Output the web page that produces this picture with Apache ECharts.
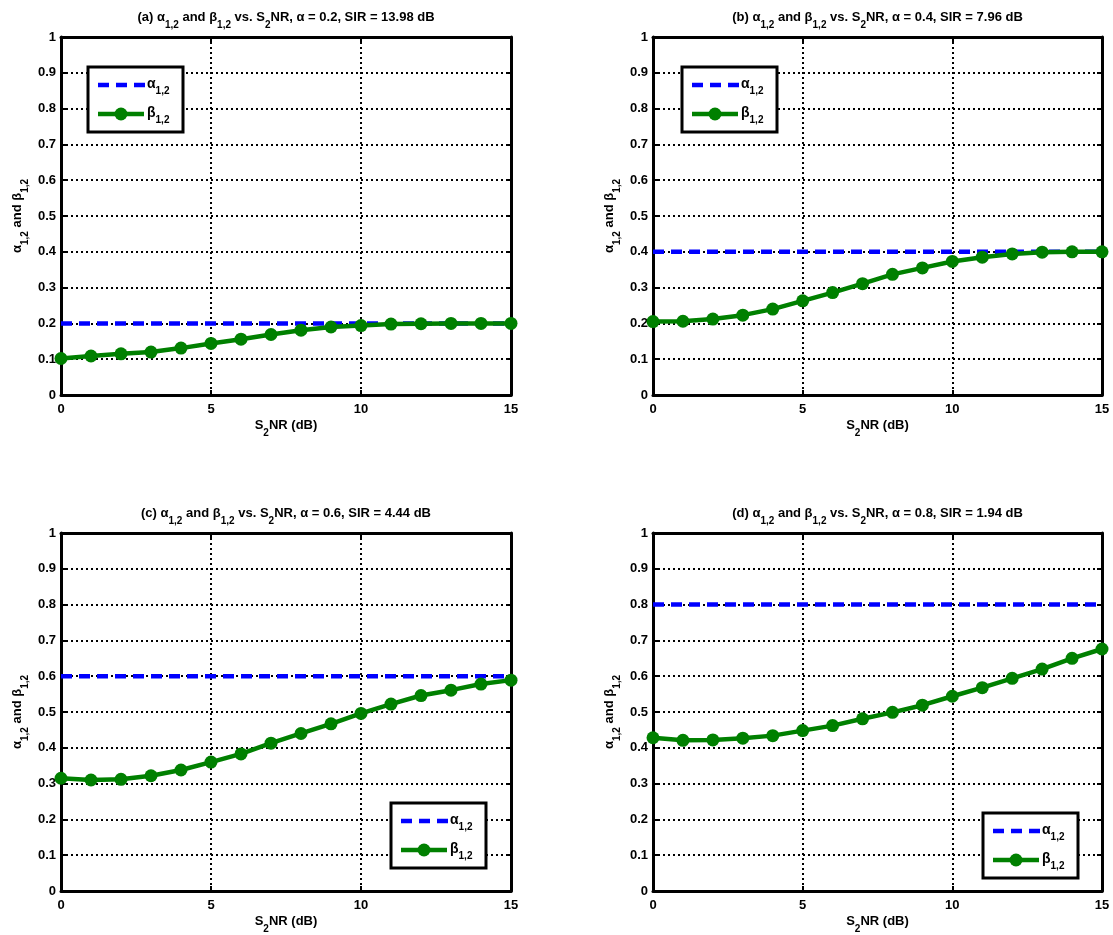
<!DOCTYPE html>
<html>
<head>
<meta charset="utf-8">
<script src="https://cdn.jsdelivr.net/npm/echarts@6/dist/echarts.min.js"></script>
<style>
  html, body { margin: 0; padding: 0; background: #ffffff; }
  #chart { width: 1113px; height: 935px; }
</style>
</head>
<body>
<div id="chart"></div>
<script>
// S2NR sweep (dB)
const snrDb = [0, 1, 2, 3, 4, 5, 6, 7, 8, 9, 10, 11, 12, 13, 14, 15];

// alpha_{1,2} per panel (constant over S2NR)
const alphaA = [0.2, 0.2, 0.2, 0.2, 0.2, 0.2, 0.2, 0.2, 0.2, 0.2, 0.2, 0.2, 0.2, 0.2, 0.2, 0.2];
const alphaB = [0.4, 0.4, 0.4, 0.4, 0.4, 0.4, 0.4, 0.4, 0.4, 0.4, 0.4, 0.4, 0.4, 0.4, 0.4, 0.4];
const alphaC = [0.6, 0.6, 0.6, 0.6, 0.6, 0.6, 0.6, 0.6, 0.6, 0.6, 0.6, 0.6, 0.6, 0.6, 0.6, 0.6];
const alphaD = [0.8, 0.8, 0.8, 0.8, 0.8, 0.8, 0.8, 0.8, 0.8, 0.8, 0.8, 0.8, 0.8, 0.8, 0.8, 0.8];

// beta_{1,2} per panel
const betaA = [0.102, 0.109, 0.115, 0.120, 0.131, 0.144, 0.156, 0.169, 0.181, 0.190, 0.194, 0.198, 0.199, 0.200, 0.200, 0.200];
const betaB = [0.205, 0.206, 0.212, 0.223, 0.240, 0.263, 0.286, 0.311, 0.337, 0.355, 0.373, 0.385, 0.394, 0.399, 0.400, 0.400];
const betaC = [0.315, 0.310, 0.312, 0.322, 0.338, 0.360, 0.383, 0.413, 0.440, 0.467, 0.496, 0.522, 0.546, 0.561, 0.578, 0.589];
const betaD = [0.428, 0.421, 0.422, 0.427, 0.434, 0.448, 0.462, 0.481, 0.499, 0.519, 0.544, 0.568, 0.594, 0.620, 0.650, 0.676];

// panel captions
const panelTags = ['(a)', '(b)', '(c)', '(d)'];
const alphaText = ['0.2', '0.4', '0.6', '0.8'];
const sirText = ['13.98', '7.96', '4.44', '1.94'];

// axis ranges
const xRange = [0, 15];
const xStep = 5;
const yRange = [0, 1];
const yStep = 0.1;

const alphaSets = [alphaA, alphaB, alphaC, alphaD];
const betaSets = [betaA, betaB, betaC, betaD];

// ---- layout ----
const FONT = '"Liberation Sans", Arial, Helvetica, sans-serif';
const grids = [
  { left: 61, top: 37, width: 450, height: 358 },
  { left: 653, top: 37, width: 449, height: 358 },
  { left: 61, top: 533, width: 450, height: 358 },
  { left: 653, top: 533, width: 449, height: 358 }
];
const legendBoxes = [
  { x: 88, y: 67 },
  { x: 682, y: 67 },
  { x: 391, y: 803 },
  { x: 983, y: 813 }
];

const BLUE = '#0000ff';
const GREEN = '#008000';
const DASH = [11, 7];
const GRID_DOTS = [2, 3];

// t: normal text, s: subscript (pushed down with top padding), L: legend text
const richStyles = {
  t: { fontFamily: FONT, fontWeight: 'bold', fontSize: 13, lineHeight: 15, verticalAlign: 'top', color: '#000' },
  s: { fontFamily: FONT, fontWeight: 'bold', fontSize: 10, padding: [9, 0, 0, 0], verticalAlign: 'top', color: '#000' },
  L: { fontFamily: FONT, fontWeight: 'bold', fontSize: 14, lineHeight: 16, verticalAlign: 'top', color: '#000' }
};

function pair(v) { return snrDb.map((x, k) => [x, v[k]]); }

const xAxes = [], yAxes = [], series = [], graphics = [];

grids.forEach((g, i) => {
  const common = {
    gridIndex: i,
    axisLine: { show: true, onZero: false, lineStyle: { color: '#000', width: 3 } },
    axisTick: { show: true, inside: true, length: 5, lineStyle: { color: '#000', width: 2 } }
  };
  xAxes.push(Object.assign({}, common, {
    type: 'value', position: 'bottom', min: xRange[0], max: xRange[1], interval: xStep,
    axisLabel: { color: '#000', fontFamily: FONT, fontWeight: 'bold', fontSize: 13, margin: 8 },
    splitLine: { show: true, lineStyle: { color: '#000', width: 2, type: GRID_DOTS } }
  }));
  xAxes.push(Object.assign({}, common, {
    type: 'value', position: 'top', min: xRange[0], max: xRange[1], interval: xStep,
    axisLabel: { show: false }, splitLine: { show: false }
  }));
  yAxes.push(Object.assign({}, common, {
    type: 'value', position: 'left', min: yRange[0], max: yRange[1], interval: yStep,
    axisLabel: { color: '#000', fontFamily: FONT, fontWeight: 'bold', fontSize: 13, margin: 5 },
    splitLine: { show: true, lineStyle: { color: '#000', width: 2, type: GRID_DOTS } }
  }));
  yAxes.push(Object.assign({}, common, {
    type: 'value', position: 'right', min: yRange[0], max: yRange[1], interval: yStep,
    axisLabel: { show: false }, splitLine: { show: false }
  }));

  series.push({
    name: 'alpha', type: 'line', xAxisIndex: 2 * i, yAxisIndex: 2 * i,
    data: pair(alphaSets[i]), showSymbol: false, symbol: 'none', z: 3,
    lineStyle: { color: BLUE, width: 4.5, type: DASH }
  });
  series.push({
    name: 'beta', type: 'line', xAxisIndex: 2 * i, yAxisIndex: 2 * i,
    data: pair(betaSets[i]), symbol: 'circle', symbolSize: 13, z: 4,
    lineStyle: { color: GREEN, width: 4.5 }, itemStyle: { color: GREEN }
  });

  const cx = g.left + g.width / 2;
  // panel title
  graphics.push({
    type: 'text', x: cx, y: g.top - 26, z: 10,
    style: {
      text: '{t|' + panelTags[i] + ' α}{s|1,2}{t| and β}{s|1,2}{t| vs. S}{s|2}{t|NR, α = ' + alphaText[i] + ', SIR = ' + sirText[i] + ' dB}',
      rich: richStyles, align: 'center', verticalAlign: 'top'
    }
  });
  // x-axis name
  graphics.push({
    type: 'text', x: cx, y: g.top + g.height + 24, z: 10,
    style: { text: '{t|S}{s|2}{t|NR (dB)}', rich: richStyles, align: 'center', verticalAlign: 'top' }
  });
  // y-axis name (reads bottom to top)
  graphics.push({
    type: 'text', x: g.left - 50, y: g.top + g.height / 2, rotation: Math.PI / 2, z: 10,
    style: { text: '{t|α}{s|1,2}{t| and β}{s|1,2}', rich: richStyles, align: 'center', verticalAlign: 'top' }
  });

  // legend box
  const lb = legendBoxes[i];
  graphics.push({
    type: 'rect', z: 20,
    shape: { x: lb.x, y: lb.y, width: 95, height: 65 },
    style: { fill: '#fff', stroke: '#000', lineWidth: 3 }
  });
  graphics.push({
    type: 'line', z: 21,
    shape: { x1: lb.x + 10, y1: lb.y + 18, x2: lb.x + 57, y2: lb.y + 18 },
    style: { stroke: BLUE, lineWidth: 4.5, lineDash: DASH }
  });
  graphics.push({
    type: 'line', z: 21,
    shape: { x1: lb.x + 10, y1: lb.y + 47, x2: lb.x + 56, y2: lb.y + 47 },
    style: { stroke: GREEN, lineWidth: 4.5 }
  });
  graphics.push({
    type: 'circle', z: 22,
    shape: { cx: lb.x + 33, cy: lb.y + 47, r: 6.5 },
    style: { fill: GREEN }
  });
  graphics.push({
    type: 'text', x: lb.x + 59, y: lb.y + 10, z: 23,
    style: { text: '{L|α}{s|1,2}', rich: richStyles, align: 'left', verticalAlign: 'top' }
  });
  graphics.push({
    type: 'text', x: lb.x + 59, y: lb.y + 39, z: 23,
    style: { text: '{L|β}{s|1,2}', rich: richStyles, align: 'left', verticalAlign: 'top' }
  });
});

const chart = echarts.init(document.getElementById('chart'), null, { renderer: 'canvas' });
chart.setOption({
  animation: false,
  backgroundColor: '#fff',
  grid: grids.map(g => Object.assign({ containLabel: false, show: false }, g)),
  xAxis: xAxes,
  yAxis: yAxes,
  series: series,
  graphic: graphics
});
</script>
</body>
</html>
